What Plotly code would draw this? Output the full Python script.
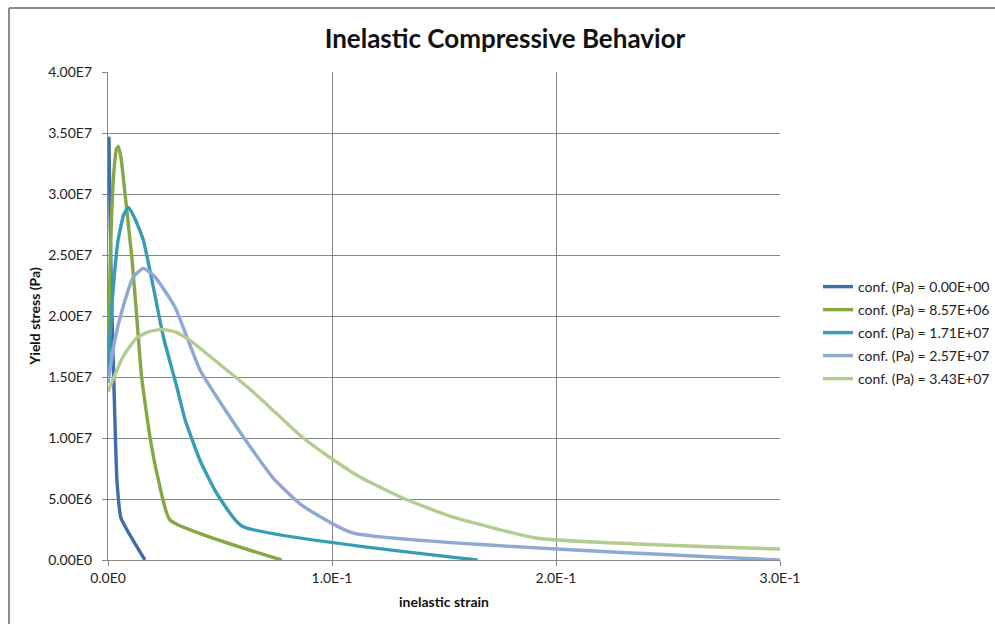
import plotly.graph_objects as go

# Inelastic strain / yield stress pairs for each confining pressure
strain_c0 = [0.0004, 0.0008, 0.0015, 0.0030, 0.0040, 0.0058, 0.0165]
stress_c0 = [3.47e7, 3.0e7, 2.2e7, 1.2e7, 6.5e6, 3.44e6, 0.0]

strain_c1 = [0.0, 0.0012, 0.0025, 0.0038, 0.0046, 0.0058, 0.0076, 0.0106, 0.0128,
             0.0150, 0.0188, 0.0225, 0.0277, 0.0775]
stress_c1 = [1.70e7, 2.60e7, 3.15e7, 3.37e7, 3.39e7, 3.30e7, 3.00e7, 2.49e7, 2.00e7,
             1.50e7, 1.00e7, 6.56e6, 3.28e6, 0.0]

strain_c2 = [0.0, 0.0020, 0.0045, 0.0070, 0.0091, 0.0120, 0.0158, 0.0202, 0.0247,
             0.0307, 0.0344, 0.0410, 0.0485, 0.0597, 0.1650]
stress_c2 = [1.55e7, 2.15e7, 2.62e7, 2.83e7, 2.89e7, 2.80e7, 2.62e7, 2.24e7, 1.83e7,
             1.42e7, 1.15e7, 8.20e6, 5.47e6, 2.79e6, 0.0]

strain_c3 = [0.0, 0.0030, 0.0068, 0.0113, 0.0158, 0.0210, 0.0300, 0.0410, 0.0545,
             0.0634, 0.0738, 0.0865, 0.1088, 0.3000]
stress_c3 = [1.45e7, 1.80e7, 2.08e7, 2.32e7, 2.39e7, 2.32e7, 2.07e7, 1.56e7, 1.17e7,
             9.30e6, 6.70e6, 4.50e6, 2.24e6, 0.0]

strain_c4 = [0.0, 0.0068, 0.0128, 0.0180, 0.0240, 0.0300, 0.0366, 0.0515, 0.0634,
             0.0753, 0.0872, 0.0999, 0.1125, 0.1318, 0.1534, 0.1920, 0.3000]
stress_c4 = [1.38e7, 1.67e7, 1.82e7, 1.87e7, 1.89e7, 1.87e7, 1.80e7, 1.58e7, 1.40e7,
             1.20e7, 1.00e7, 8.30e6, 6.80e6, 5.06e6, 3.55e6, 1.78e6, 9.0e5]

series_names = ["conf. (Pa) = 0.00E+00", "conf. (Pa) = 8.57E+06", "conf. (Pa) = 1.71E+07",
                "conf. (Pa) = 2.57E+07", "conf. (Pa) = 3.43E+07"]
series_colors = ["#3F6DAA", "#84A844", "#379DB4", "#8FA8D4", "#B3CD91"]

x_tick_vals = [0.0, 0.1, 0.2, 0.3]
x_tick_text = ["0.0E0", "1.0E-1", "2.0E-1", "3.0E-1"]
y_tick_vals = [0, 5e6, 1e7, 1.5e7, 2e7, 2.5e7, 3e7, 3.5e7, 4e7]
y_tick_text = ["0.00E0", "5.00E6", "1.00E7", "1.50E7", "2.00E7", "2.50E7",
               "3.00E7", "3.50E7", "4.00E7"]

strains = [strain_c0, strain_c1, strain_c2, strain_c3, strain_c4]
stresses = [stress_c0, stress_c1, stress_c2, stress_c3, stress_c4]

FONT = "Lato, Carlito, Calibri, sans-serif"
GRID = "#878787"
TEXT = "#222222"

# one legend box per series so the entries get an even 23 px pitch
legend_ids = ["legend", "legend2", "legend3", "legend4", "legend5"]
legend_y = [0.5594, 0.5123, 0.4652, 0.4180, 0.3709]

fig = go.Figure()
for xs, ys, name, color, lid in zip(strains, stresses, series_names, series_colors, legend_ids):
    fig.add_trace(go.Scatter(
        x=xs, y=ys, mode="lines", name=name, legend=lid,
        line=dict(color=color, width=3.4, shape="spline", smoothing=0.45),
    ))

legend_layout = {}
for lid, ly in zip(legend_ids, legend_y):
    legend_layout[lid] = dict(
        x=1.0565, y=ly, xanchor="left", yanchor="middle",
        font=dict(family=FONT, size=14, color=TEXT),
        bgcolor="rgba(0,0,0,0)", itemwidth=30,
    )

fig.update_layout(
    width=995, height=624,
    margin=dict(l=108, r=215, t=72, b=64, autoexpand=False),
    paper_bgcolor="white", plot_bgcolor="white",
    font=dict(family=FONT, size=14, color=TEXT),
    title=dict(text="<b>Inelastic Compressive Behavior</b>", x=0.5075, xanchor="center",
               xref="container", y=0.938, yanchor="middle",
               font=dict(family=FONT, size=26, color="#111111")),
    showlegend=True,
    shapes=[
        dict(type="line", xref="paper", yref="paper", x0=-0.1473, x1=1.4,
             y0=1.131, y1=1.131, line=dict(color="#8A8A8A", width=2)),
        dict(type="line", xref="paper", yref="paper", x0=-0.1473, x1=-0.1473,
             y0=1.131, y1=-0.2, line=dict(color="#8A8A8A", width=2)),
    ],
    **legend_layout,
)

fig.update_xaxes(
    range=[0, 0.3], tickvals=x_tick_vals, ticktext=x_tick_text,
    showgrid=True, gridcolor=GRID, gridwidth=1.3,
    showline=True, linecolor=GRID, linewidth=1.3,
    ticks="outside", ticklen=5, tickcolor=GRID, zeroline=False,
    tickfont=dict(family=FONT, size=14, color=TEXT),
    title=dict(text="<b>inelastic strain</b>", standoff=12,
               font=dict(family=FONT, size=14, color="#111111")),
)
fig.update_yaxes(
    range=[0, 4e7], tickvals=y_tick_vals, ticktext=y_tick_text,
    showgrid=True, gridcolor=GRID, gridwidth=1.3,
    showline=True, linecolor=GRID, linewidth=1.3,
    ticks="outside", ticklen=5, tickcolor=GRID, zeroline=False,
    ticklabelstandoff=7,
    tickfont=dict(family=FONT, size=14, color=TEXT),
    title=dict(text="<b>Yield stress (Pa)</b>", standoff=4,
               font=dict(family=FONT, size=14, color="#111111")),
)

fig.write_html("out.html")
